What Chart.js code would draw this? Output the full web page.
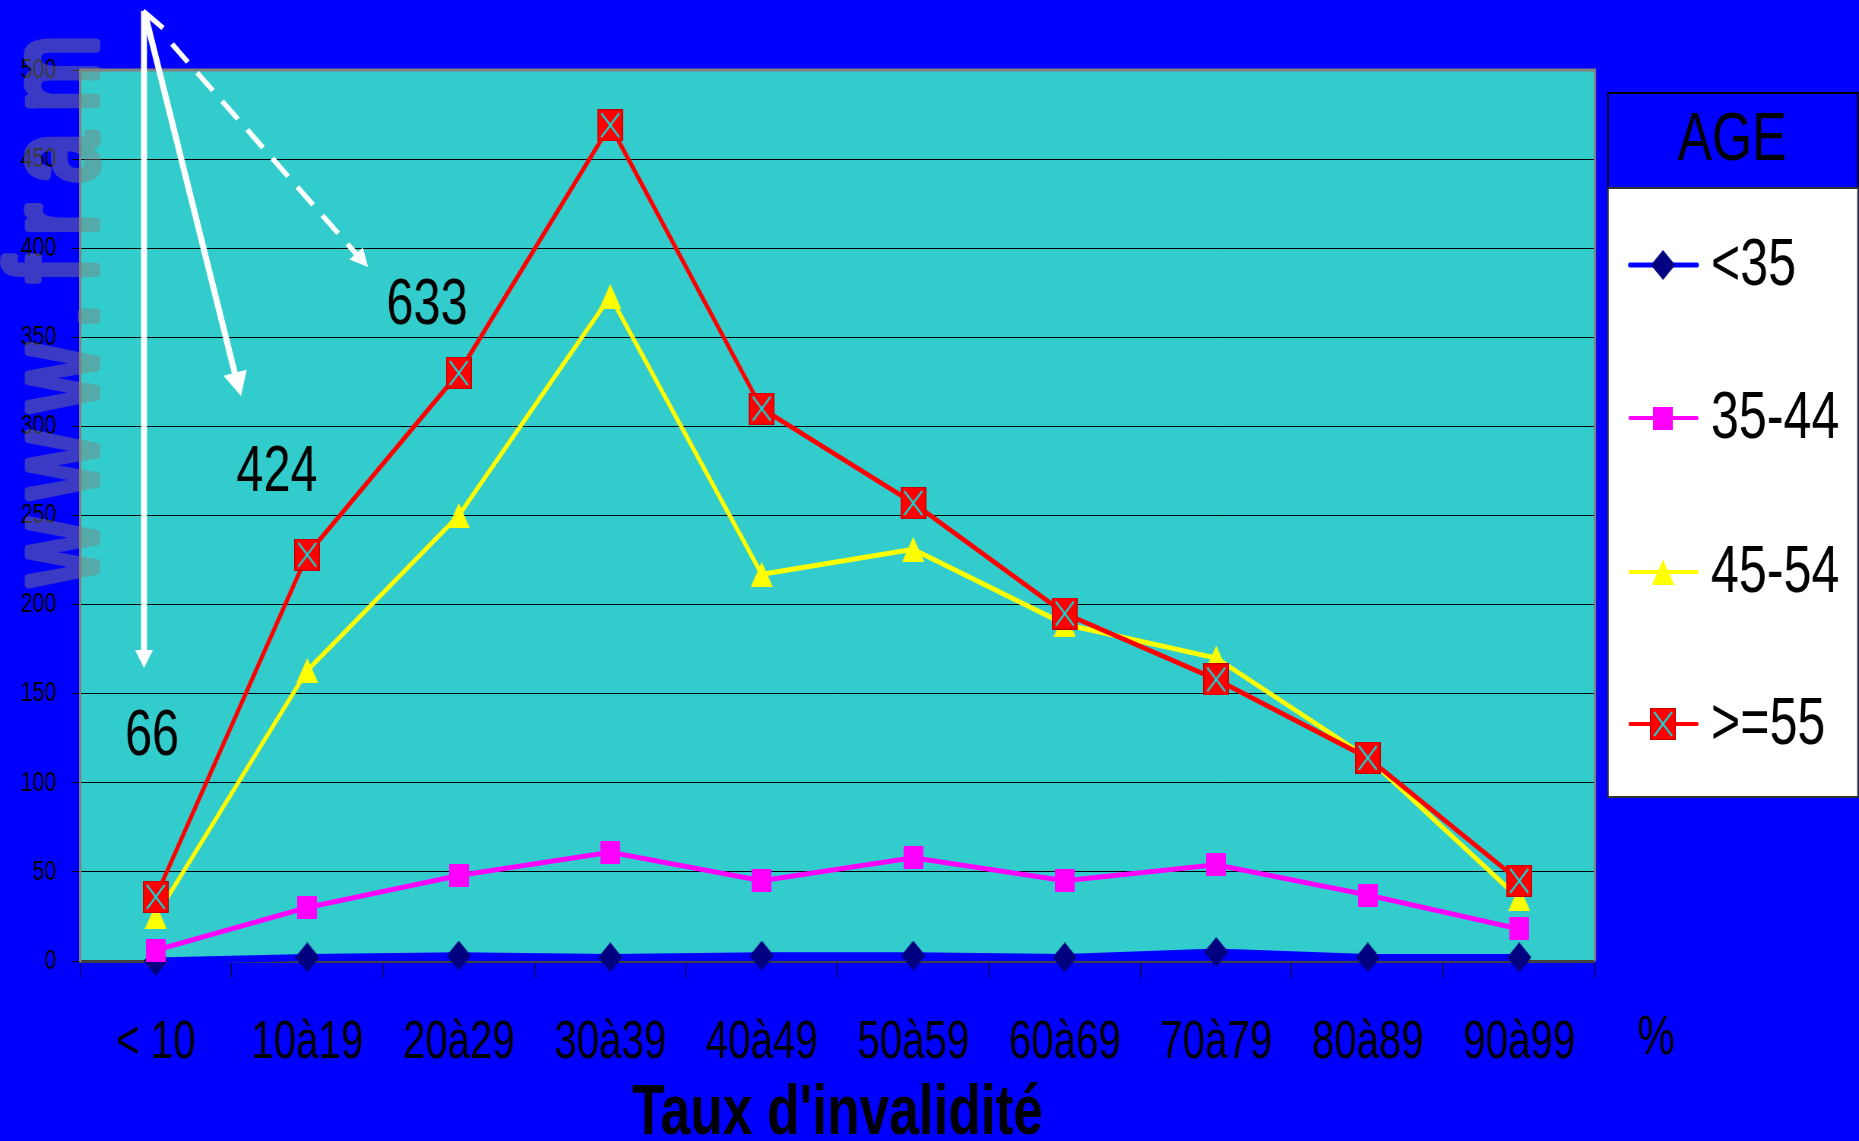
<!DOCTYPE html>
<html><head><meta charset="utf-8">
<script src="https://cdn.jsdelivr.net/npm/chart.js@4.4.0/dist/chart.umd.min.js"></script>
<style>
html,body{margin:0;padding:0;background:#0000FF;overflow:hidden;width:1859px;height:1141px;}
#wrap{position:absolute;left:0;top:0;width:2446px;height:1141px;transform:scaleX(0.76);transform-origin:0 0;}
canvas{display:block;}
</style></head><body>
<div id="wrap"><canvas id="c" width="2446" height="1141"></canvas></div>
<script>
// ---- data ----
const categories = ['< 10','10à19','20à29','30à39','40à49','50à59','60à69','70à79','80à89','90à99'];
const ageGroups = ['<35','35-44','45-54','>=55'];
const under35 = [0, 2, 3, 2, 3, 3, 2, 5, 2, 2];
const age35to44 = [6, 30, 48, 61, 45, 58, 45, 54, 37, 18];
const age45to54 = [25, 163, 250, 373, 217, 231, 189, 170, 114, 35];
const age55plus = [36, 228, 330, 469, 310, 257, 195, 158, 114, 45];
const yMin = 0, yMax = 500, yStep = 50;
const annotationLabels = ['66', '424', '633'];
const axisTitle = "Taux d'invalidité";
const unitLabel = '%';
const legendTitle = 'AGE';
const watermark = 'www.fram';

// horizontal squeeze factor (canvas is drawn wider, then scaled by CSS)
const S = 0.76;
const FONT = '"Liberation Sans", Arial, sans-serif';

function makeMarker(wF, hF, draw) {
  const c = document.createElement('canvas');
  c.width = Math.round(wF / S); c.height = hF;
  const g = c.getContext('2d');
  g.scale(c.width / wF, 1);
  draw(g, wF, hF);
  return c;
}
const mDiamond = makeMarker(24, 30, (g, w, h) => {
  g.fillStyle = '#000080'; g.beginPath();
  g.moveTo(w/2, 0); g.lineTo(w, h/2); g.lineTo(w/2, h); g.lineTo(0, h/2); g.closePath(); g.fill();
});
const mSquare = makeMarker(20, 23, (g, w, h) => { g.fillStyle = '#FF00FF'; g.fillRect(0, 0, w, h); });
const mTriangle = makeMarker(22, 25, (g, w, h) => {
  g.fillStyle = '#FFFF00'; g.beginPath(); g.moveTo(w/2, 0); g.lineTo(w, h); g.lineTo(0, h); g.closePath(); g.fill();
});
const mCross = makeMarker(26, 32, (g, w, h) => {
  g.fillStyle = '#FF0000'; g.fillRect(0, 0, w, h);
  g.strokeStyle = '#C00000'; g.lineWidth = 1; g.strokeRect(0.5, 0.5, w-1, h-1);
  g.strokeStyle = '#00E5E5'; g.lineWidth = 2;
  g.beginPath(); g.moveTo(4, 4); g.lineTo(w-4, h-4); g.moveTo(w-4, 4); g.lineTo(4, h-4); g.stroke();
});

const bgPlugin = {
  id: 'bg',
  beforeDraw(chart) {
    const {ctx, chartArea: a} = chart;
    ctx.save();
    ctx.fillStyle = '#0000FF'; ctx.fillRect(0, 0, chart.width, chart.height);
    ctx.fillStyle = '#33CCCC'; ctx.fillRect(a.left, a.top, a.right - a.left, a.bottom - a.top);
    ctx.restore();
  },
  beforeDatasetsDraw(chart) {
    const {ctx, chartArea: a} = chart;
    ctx.save(); ctx.strokeStyle = '#808080'; ctx.lineWidth = 3;
    ctx.beginPath(); ctx.moveTo(a.left, a.top); ctx.lineTo(a.right, a.top); ctx.lineTo(a.right, a.bottom); ctx.stroke();
    ctx.restore();
  }
};

function arrowHead(ctx, tx, ty, fx, fy, len, half) {
  const ang = Math.atan2(ty - fy, tx - fx);
  ctx.beginPath();
  ctx.moveTo(tx, ty);
  ctx.lineTo(tx - len*Math.cos(ang) + half*Math.sin(ang), ty - len*Math.sin(ang) - half*Math.cos(ang));
  ctx.lineTo(tx - len*Math.cos(ang) - half*Math.sin(ang), ty - len*Math.sin(ang) + half*Math.cos(ang));
  ctx.closePath(); ctx.fill();
}

const overlayPlugin = {
  id: 'overlay',
  afterDraw(chart) {
    const ctx = chart.ctx;
    // watermark (rendered on an offscreen layer so fill+stroke overlap doesn't double the alpha)
    const wm = document.createElement('canvas');
    wm.width = chart.width; wm.height = chart.height;
    const g = wm.getContext('2d');
    g.scale(1/S, 1);
    g.translate(96, 585);
    g.rotate(-Math.PI/2);
    g.scale(0.72, 1);
    g.font = '126px ' + FONT;
    try { g.letterSpacing = '30px'; } catch(e) {}
    g.fillStyle = '#808080'; g.strokeStyle = '#808080';
    g.lineWidth = 9; g.lineJoin = 'round';
    g.textBaseline = 'alphabetic'; g.textAlign = 'left';
    g.fillText(watermark, 0, 0);
    g.strokeText(watermark, 0, 0);
    ctx.save();
    ctx.globalAlpha = 0.45;
    ctx.drawImage(wm, 0, 0);
    ctx.restore();

    // arrows (full-pixel coordinates)
    ctx.save();
    ctx.scale(1/S, 1);
    ctx.strokeStyle = '#FFFFFF'; ctx.fillStyle = '#FFFFFF';
    ctx.lineWidth = 6; ctx.lineCap = 'butt';
    ctx.beginPath(); ctx.moveTo(144, 11); ctx.lineTo(144, 652); ctx.stroke();
    arrowHead(ctx, 144, 668, 144, 11, 18, 9);
    ctx.beginPath(); ctx.moveTo(145, 14); ctx.lineTo(236, 378); ctx.stroke();
    arrowHead(ctx, 241, 396, 143, 11, 24, 12);
    ctx.lineWidth = 5;
    ctx.beginPath(); ctx.moveTo(143, 11); ctx.lineTo(163, 28); ctx.stroke();
    ctx.setLineDash([24, 14]);
    ctx.beginPath(); ctx.moveTo(172, 44); ctx.lineTo(358, 256); ctx.stroke();
    ctx.setLineDash([]);
    arrowHead(ctx, 368, 267, 172, 44, 18, 9);
    ctx.restore();

    // annotation numbers
    ctx.save();
    ctx.fillStyle = '#000000'; ctx.textAlign = 'center'; ctx.textBaseline = 'middle';
    ctx.font = '64px ' + FONT;
    const pos = [[152, 737], [277, 473], [427, 306]];
    annotationLabels.forEach((t, i) => ctx.fillText(t, pos[i][0]/S, pos[i][1]));
    ctx.font = '55px ' + FONT;
    ctx.fillText(unitLabel, 1656/S, 1039);
    ctx.restore();

    // legend
    ctx.save();
    const lx0 = 1608/S, lx1 = 1858/S;
    ctx.fillStyle = '#0000FF'; ctx.fillRect(lx0, 93, lx1 - lx0, 95);
    ctx.strokeStyle = '#000000'; ctx.lineWidth = 2; ctx.strokeRect(lx0, 93, lx1 - lx0, 95);
    ctx.fillStyle = '#000000'; ctx.font = '68px ' + FONT; ctx.textAlign = 'center'; ctx.textBaseline = 'middle';
    ctx.fillText(legendTitle, 1732/S, 141);
    ctx.fillStyle = '#FFFFFF'; ctx.fillRect(lx0, 188, lx1 - lx0, 609);
    ctx.strokeStyle = '#333333'; ctx.lineWidth = 2; ctx.strokeRect(lx0, 188, lx1 - lx0, 609);
    const ys = [265, 418, 572, 724];
    chart.data.datasets.forEach((ds, i) => {
      const y = ys[i];
      ctx.strokeStyle = ds.borderColor; ctx.lineWidth = i === 0 ? 5 : 4; ctx.lineCap = 'round';
      ctx.beginPath(); ctx.moveTo(1630/S, y); ctx.lineTo(1697/S, y); ctx.stroke();
      const m = ds.pointStyle;
      ctx.drawImage(m, 1663/S - m.width/2, y - m.height/2);
      ctx.fillStyle = '#000000'; ctx.font = '66px ' + FONT; ctx.textAlign = 'left'; ctx.textBaseline = 'middle';
      ctx.fillText(ds.label, 1711/S, y + 2);
    });
    ctx.restore();
  }
};

new Chart(document.getElementById('c'), {
  type: 'line',
  data: {
    labels: categories,
    datasets: [
      { label: ageGroups[0], data: under35, borderColor: '#0000FF', backgroundColor: '#0000FF', borderWidth: 7,
        fill: 'origin', pointStyle: mDiamond, order: 3, clip: false },
      { label: ageGroups[1], data: age35to44, borderColor: '#FF00FF', backgroundColor: '#FF00FF', borderWidth: 5,
        fill: false, pointStyle: mSquare, order: 2, clip: false },
      { label: ageGroups[2], data: age45to54, borderColor: '#FFFF00', backgroundColor: '#FFFF00', borderWidth: 5,
        fill: false, pointStyle: mTriangle, order: 1, clip: false },
      { label: ageGroups[3], data: age55plus, borderColor: '#FF0000', backgroundColor: '#FF0000', borderWidth: 5,
        fill: false, pointStyle: mCross, order: 0, clip: false }
    ]
  },
  options: {
    responsive: false,
    animation: false,
    devicePixelRatio: 1,
    events: [],
    elements: { line: { tension: 0 }, point: { radius: 10 } },
    layout: { padding: { left: 0, top: 70, right: (1859 - 1595)/S, bottom: 0 } },
    plugins: { legend: { display: false }, tooltip: { enabled: false }, title: { display: false } },
    scales: {
      x: {
        type: 'category',
        offset: true,
        grid: { offset: true, drawOnChartArea: false, drawTicks: true, tickLength: 17, color: '#000000', lineWidth: 1 },
        border: { display: true, color: '#404040', width: 3 },
        ticks: { color: '#000000', font: { family: FONT, size: 53 }, padding: 34, autoSkip: false, maxRotation: 0, minRotation: 0 },
        title: { display: true, text: axisTitle, color: '#000000', font: { family: FONT, size: 70, weight: 'bold', lineHeight: 0.86 }, padding: { top: 0, bottom: -4 } },
        afterFit(s) { s.height = 180; }
      },
      y: {
        min: yMin, max: yMax,
        grid: { color: '#000000', lineWidth: 1, drawTicks: true, tickLength: 10.5 },
        border: { display: true, color: '#808080', width: 3 },
        ticks: { stepSize: yStep, color: '#000000', font: { family: FONT, size: 28 }, padding: 21 },
        afterFit(s) { s.width = 80 / S; }
      }
    }
  },
  plugins: [bgPlugin, overlayPlugin]
});
</script>
</body></html>
